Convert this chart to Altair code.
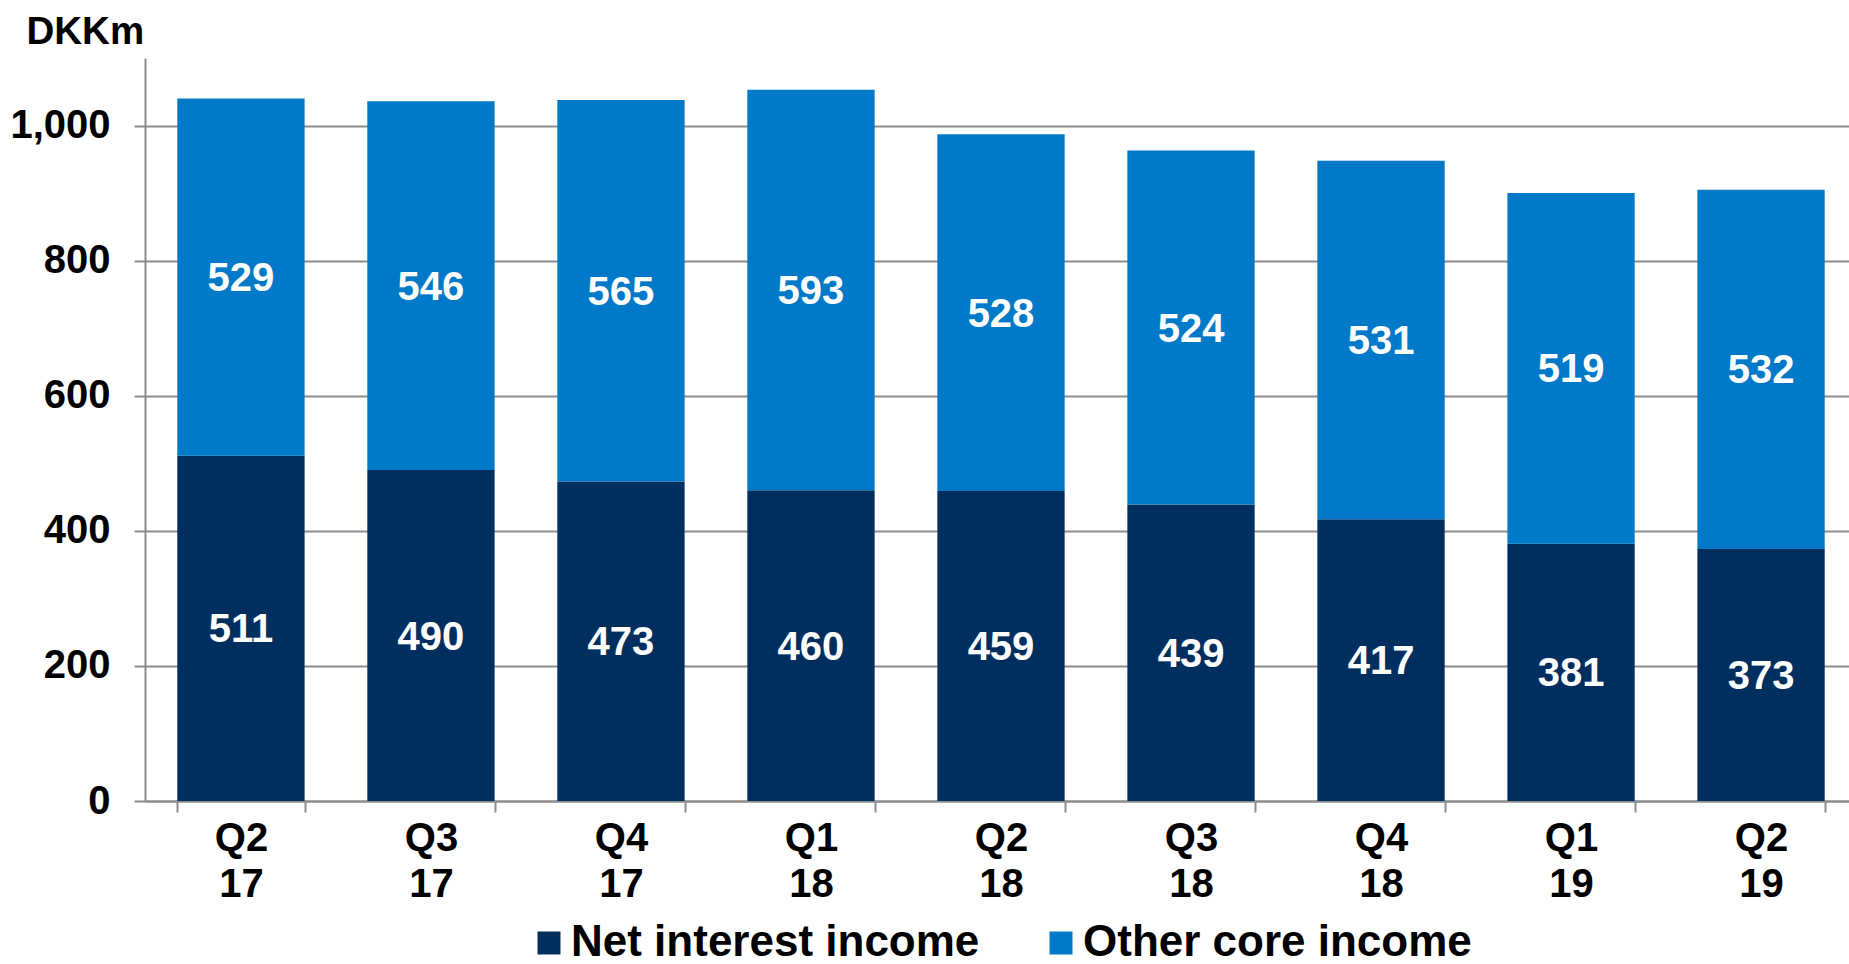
import altair as alt
import pandas as pd

quarters = ["Q2 17", "Q3 17", "Q4 17", "Q1 18", "Q2 18", "Q3 18", "Q4 18", "Q1 19", "Q2 19"]
net_interest = [511, 490, 473, 460, 459, 439, 417, 381, 373]
other_core = [529, 546, 565, 593, 528, 524, 531, 519, 532]
series = ["Net interest income", "Other core income"]
colors = ["#002F5F", "#0079C8"]
y_ticks = [0, 200, 400, 600, 800, 1000]

rows = []
for i, q in enumerate(quarters):
    rows.append({"q": q, "series": series[0], "value": net_interest[i], "order": 0})
    rows.append({"q": q, "series": series[1], "value": other_core[i], "order": 1})
df = pd.DataFrame(rows)

FONT = "Liberation Sans"
GREY = "#8c8c8c"

base = alt.Chart(df).transform_stack(
    stack="value", groupby=["q"], as_=["v0", "v1"],
    sort=[alt.SortField(field="order", order="ascending")]
).transform_calculate(mid="(datum.v0 + datum.v1) / 2")

x_enc = alt.X(
    "q:N", sort=quarters, title=None,
    scale=alt.Scale(paddingInner=0.33, paddingOuter=0.17),
    axis=alt.Axis(
        tickBand="extent", labelExpr="split(datum.label, ' ')", labelAngle=0,
        labelFont=FONT, labelFontSize=40, labelFontWeight="bold", labelColor="black",
        labelLineHeight=46, labelPadding=6, tickSize=11, tickColor=GREY, tickWidth=2,
        domainColor=GREY, domainWidth=2, grid=False,
    ),
)

bars = base.mark_bar().encode(
    x=x_enc,
    y=alt.Y(
        "v0:Q",
        scale=alt.Scale(domain=[0, 1100], nice=False),
        axis=alt.Axis(
            values=y_ticks, format=",.0f", title="DKKm", titleAngle=0, titleAlign="left",
            titleBaseline="alphabetic", titleX=-119, titleY=-15, titleFont=FONT,
            titleFontSize=38.5, titleFontWeight="bold", titleColor="black",
            labelFont=FONT, labelFontSize=40, labelFontWeight="bold", labelColor="black",
            labelPadding=24, tickSize=11, tickColor=GREY, tickWidth=2,
            domainColor=GREY, domainWidth=2, grid=True, gridColor=GREY, gridWidth=2,
        ),
    ),
    y2="v1:Q",
    color=alt.Color(
        "series:N",
        scale=alt.Scale(domain=series, range=colors),
        legend=alt.Legend(
            title=None, orient="none", legendX=382, legendY=863, direction="horizontal",
            symbolType="square", symbolSize=529, symbolStrokeWidth=0,
            labelFont=FONT, labelFontSize=44, labelFontWeight="bold", labelColor="black",
            labelOffset=0, columnPadding=59, padding=0, labelLimit=0,
        ),
    ),
)

text = base.mark_text(
    color="white", font=FONT, fontWeight="bold", fontSize=40, baseline="middle", dy=2
).encode(
    x=alt.X("q:N", sort=quarters),
    y=alt.Y("mid:Q"),
    text="value:Q",
)

chart = alt.layer(bars, text).properties(
    width=1712, height=743,
    autosize=alt.AutoSizeParams(type="none"),
    padding={"left": 145, "top": 58, "right": -8, "bottom": 163},
).configure_view(stroke=None)

chart.save("out.html", embed_options={"renderer": "svg", "actions": False})
